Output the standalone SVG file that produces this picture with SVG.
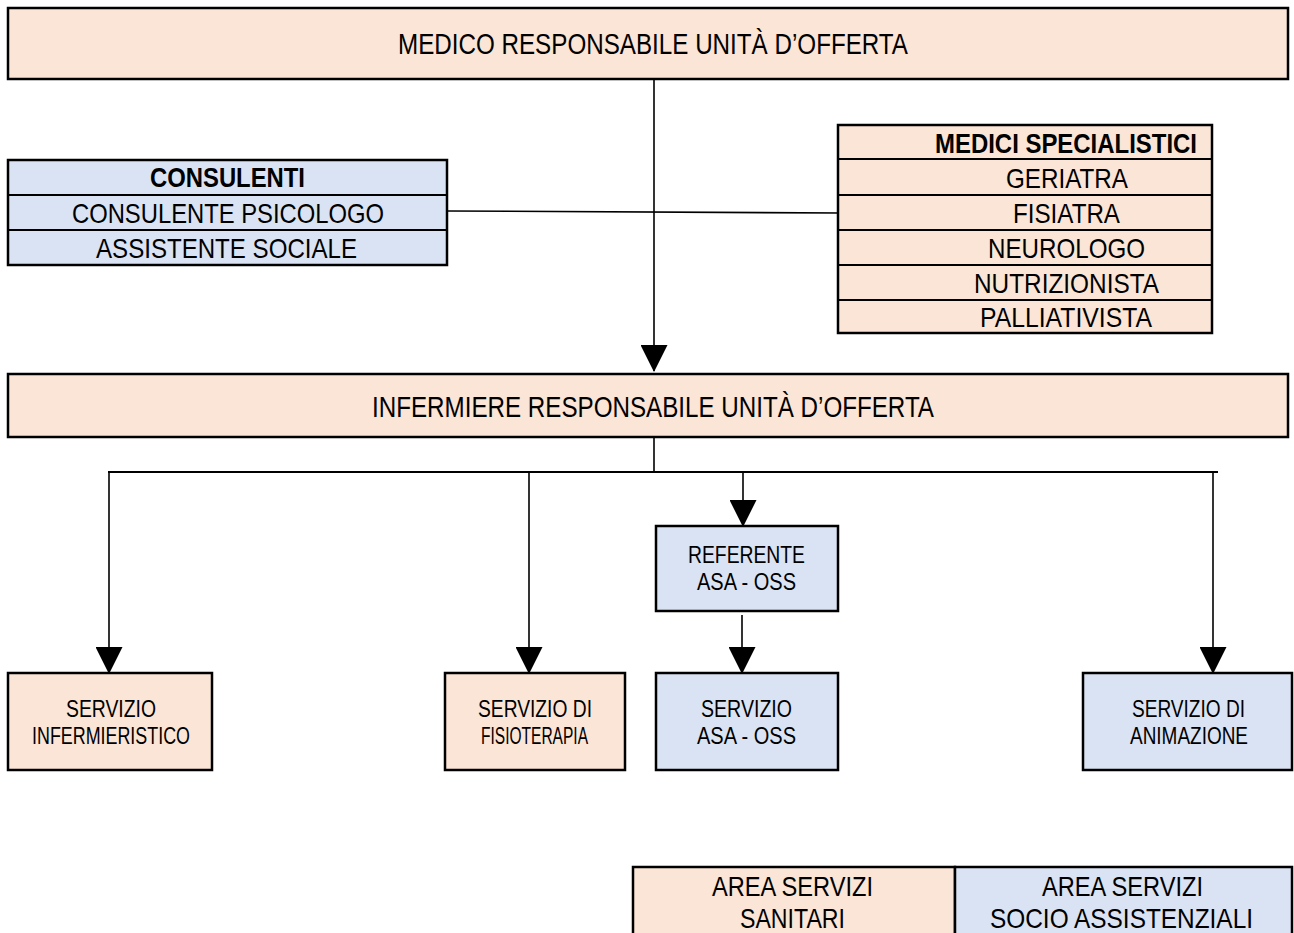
<svg xmlns="http://www.w3.org/2000/svg" width="1294" height="933" viewBox="0 0 1294 933">
<style>
.peach{fill:#FBE5D6;stroke:#000;stroke-width:2.5}
.blue{fill:#DAE3F3;stroke:#000;stroke-width:2.5}
.div{stroke:#000;stroke-width:2}
.t{font-family:"Liberation Sans Narrow","Liberation Sans",Arial,sans-serif;fill:#000;text-anchor:start}
.big{font-size:29px}
.mid{font-size:28px}
.sm{font-size:23px}
.b{font-weight:bold}
.con{stroke:#000;stroke-width:1.6;fill:none}
</style>
<defs>
<marker id="ah" markerUnits="userSpaceOnUse" markerWidth="27" markerHeight="27" refX="26" refY="13.5" orient="auto" viewBox="0 0 27 27">
<path d="M0,0 L27,13.5 L0,27 z" fill="#000"/>
</marker>
</defs>
<rect width="1294" height="933" fill="#fff"/>

<g id="connectors">
<line class="con" x1="654" y1="79" x2="654" y2="371" marker-end="url(#ah)"/>
<line class="con" x1="447" y1="211" x2="841" y2="213"/>
<line class="con" x1="654" y1="437" x2="654" y2="472"/>
<line x1="108" y1="472" x2="1218" y2="472" stroke="#000" stroke-width="2"/>
<line class="con" x1="109" y1="472" x2="109" y2="673" marker-end="url(#ah)"/>
<line class="con" x1="529" y1="472" x2="529" y2="673" marker-end="url(#ah)"/>
<line class="con" x1="743" y1="472" x2="743" y2="526" marker-end="url(#ah)"/>
<line class="con" x1="742" y1="615" x2="742" y2="673" marker-end="url(#ah)"/>
<line class="con" x1="1213" y1="472" x2="1213" y2="673" marker-end="url(#ah)"/>
</g>

<g id="medico">
<rect class="peach" x="8" y="8" width="1280" height="71"/>
<text class="t big" x="398" y="54" textLength="510" lengthAdjust="spacingAndGlyphs">MEDICO RESPONSABILE UNITÀ D’OFFERTA</text>
</g>

<g id="consulenti">
<rect class="blue" x="8" y="160" width="439" height="105"/>
<line class="div" x1="8" y1="195" x2="447" y2="195"/>
<line class="div" x1="8" y1="230" x2="447" y2="230"/>
<text class="t mid b" x="150" y="187" textLength="155" lengthAdjust="spacingAndGlyphs">CONSULENTI</text>
<text class="t mid" x="72" y="223" textLength="312" lengthAdjust="spacingAndGlyphs">CONSULENTE PSICOLOGO</text>
<text class="t mid" x="96" y="258" textLength="261" lengthAdjust="spacingAndGlyphs">ASSISTENTE SOCIALE</text>
</g>

<g id="medici-specialistici">
<rect class="peach" x="838" y="125" width="374" height="208"/>
<line class="div" x1="838" y1="159" x2="1212" y2="159"/>
<line class="div" x1="838" y1="195" x2="1212" y2="195"/>
<line class="div" x1="838" y1="230" x2="1212" y2="230"/>
<line class="div" x1="838" y1="265" x2="1212" y2="265"/>
<line class="div" x1="838" y1="300" x2="1212" y2="300"/>
<text class="t mid b" x="935" y="153" textLength="262" lengthAdjust="spacingAndGlyphs">MEDICI SPECIALISTICI</text>
<text class="t mid" x="1006" y="188" textLength="122" lengthAdjust="spacingAndGlyphs">GERIATRA</text>
<text class="t mid" x="1013" y="223" textLength="107" lengthAdjust="spacingAndGlyphs">FISIATRA</text>
<text class="t mid" x="988" y="258" textLength="157" lengthAdjust="spacingAndGlyphs">NEUROLOGO</text>
<text class="t mid" x="974" y="293" textLength="185" lengthAdjust="spacingAndGlyphs">NUTRIZIONISTA</text>
<text class="t mid" x="980" y="327" textLength="172" lengthAdjust="spacingAndGlyphs">PALLIATIVISTA</text>
</g>

<g id="infermiere">
<rect class="peach" x="8" y="374" width="1280" height="63"/>
<text class="t big" x="372" y="417" textLength="562" lengthAdjust="spacingAndGlyphs">INFERMIERE RESPONSABILE UNITÀ D’OFFERTA</text>
</g>

<g id="referente">
<rect class="blue" x="656" y="526" width="182" height="85"/>
<text class="t sm" x="688" y="563" textLength="117" lengthAdjust="spacingAndGlyphs">REFERENTE</text>
<text class="t sm" x="697" y="590" textLength="99" lengthAdjust="spacingAndGlyphs">ASA - OSS</text>
</g>

<g id="servizio-infermieristico">
<rect class="peach" x="8" y="673" width="204" height="97"/>
<text class="t sm" x="66" y="717" textLength="90" lengthAdjust="spacingAndGlyphs">SERVIZIO</text>
<text class="t sm" x="32" y="744" textLength="158" lengthAdjust="spacingAndGlyphs">INFERMIERISTICO</text>
</g>

<g id="servizio-fisioterapia">
<rect class="peach" x="445" y="673" width="180" height="97"/>
<text class="t sm" x="478" y="717" textLength="114" lengthAdjust="spacingAndGlyphs">SERVIZIO DI</text>
<text class="t sm" x="481" y="744" textLength="107" lengthAdjust="spacingAndGlyphs">FISIOTERAPIA</text>
</g>

<g id="servizio-asa-oss">
<rect class="blue" x="656" y="673" width="182" height="97"/>
<text class="t sm" x="701" y="717" textLength="91" lengthAdjust="spacingAndGlyphs">SERVIZIO</text>
<text class="t sm" x="697" y="744" textLength="99" lengthAdjust="spacingAndGlyphs">ASA - OSS</text>
</g>

<g id="servizio-animazione">
<rect class="blue" x="1083" y="673" width="209" height="97"/>
<text class="t sm" x="1132" y="717" textLength="113" lengthAdjust="spacingAndGlyphs">SERVIZIO DI</text>
<text class="t sm" x="1130" y="744" textLength="118" lengthAdjust="spacingAndGlyphs">ANIMAZIONE</text>
</g>

<g id="legenda">
<rect class="peach" x="633" y="867" width="322" height="80"/>
<rect class="blue" x="955" y="867" width="337" height="80"/>
<text class="t mid" x="712" y="896" textLength="161" lengthAdjust="spacingAndGlyphs">AREA SERVIZI</text>
<text class="t mid" x="740" y="928" textLength="105" lengthAdjust="spacingAndGlyphs">SANITARI</text>
<text class="t mid" x="1042" y="896" textLength="161" lengthAdjust="spacingAndGlyphs">AREA SERVIZI</text>
<text class="t mid" x="990" y="928" textLength="263" lengthAdjust="spacingAndGlyphs">SOCIO ASSISTENZIALI</text>
</g>
</svg>
